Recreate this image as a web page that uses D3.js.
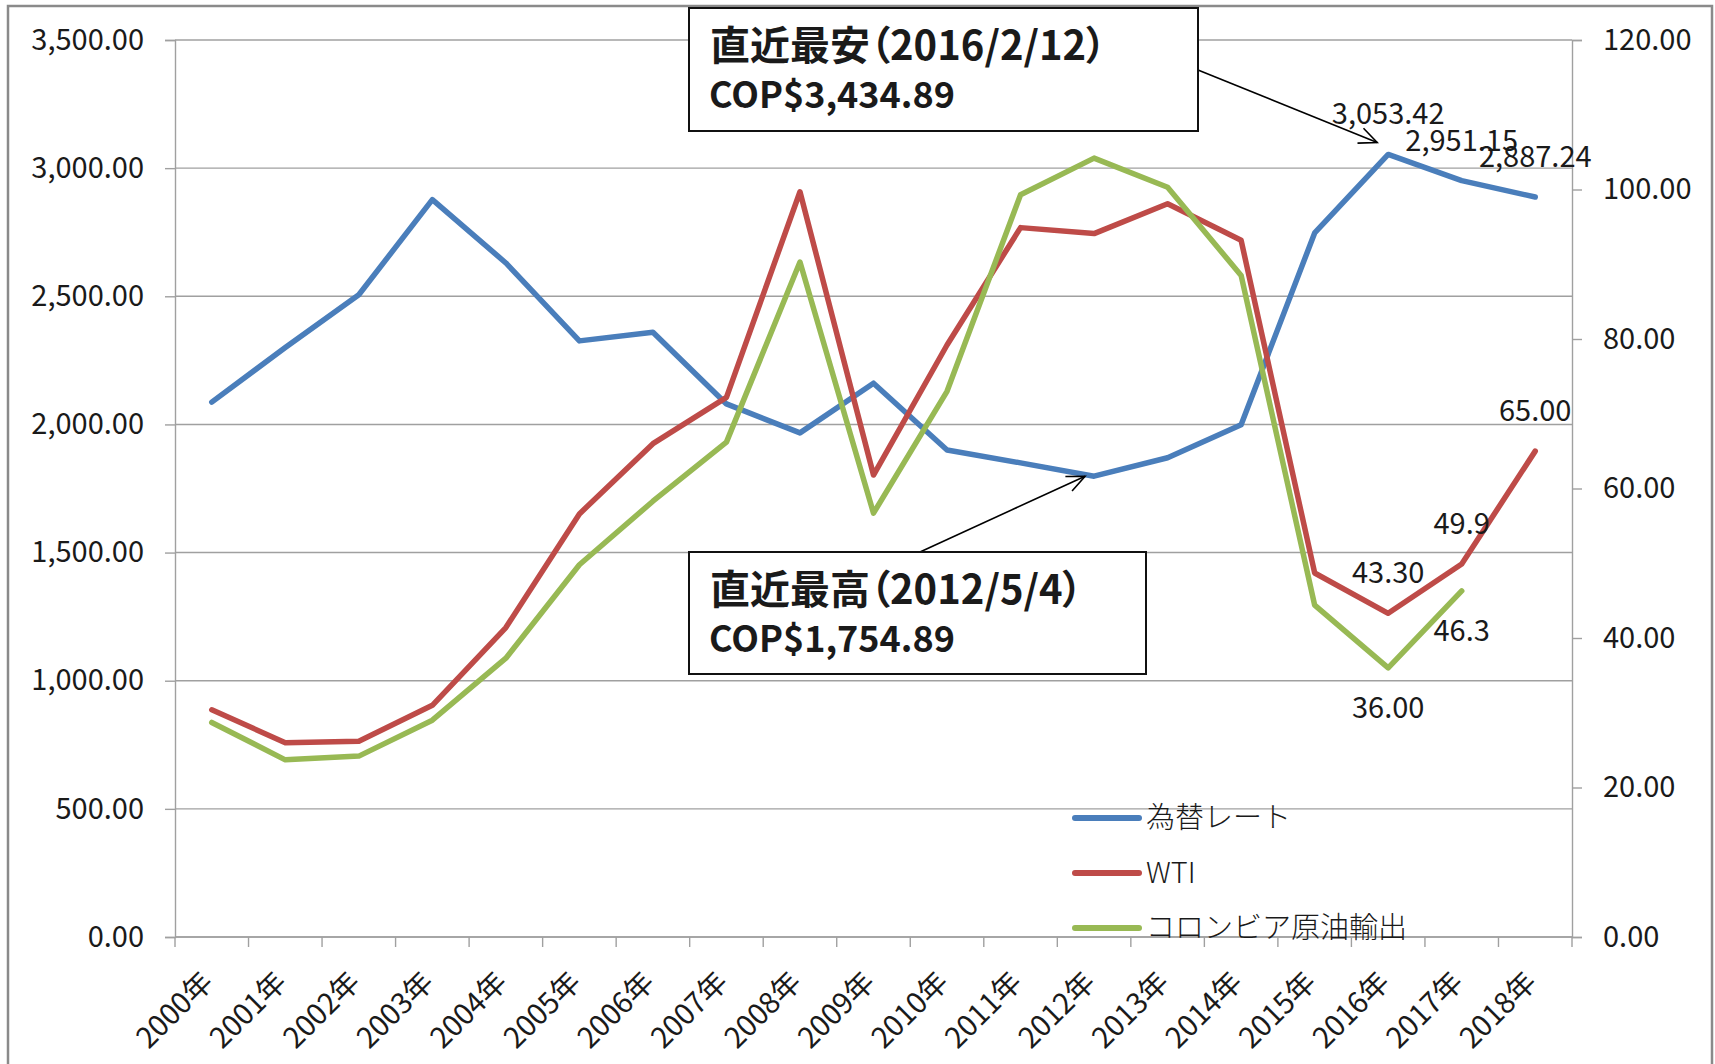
<!DOCTYPE html>
<html>
<head>
<meta charset="utf-8">
<script src="https://cdn.jsdelivr.net/npm/d3@7"></script>
<style>
  html, body { margin: 0; padding: 0; background: #fff; }
  svg { display: block; }
  text { font-family: "Noto Sans CJK JP", "Noto Sans", sans-serif; fill: #1a1a1a; }
</style>
</head>
<body>
<svg id="chart" width="1715" height="1064"></svg>
<script>
// ---------------- data ----------------
const years = ["2000年","2001年","2002年","2003年","2004年","2005年","2006年","2007年","2008年","2009年",
               "2010年","2011年","2012年","2013年","2014年","2015年","2016年","2017年","2018年"];
// 為替レート (COP per USD, left axis)
const rate = [2087, 2300, 2506, 2877, 2630, 2326, 2360, 2080, 1967, 2161,
              1900, 1850, 1798, 1870, 1999, 2747, 3053.42, 2951.15, 2887.24];
// WTI (USD/bbl, right axis)
const wti = [30.4, 26.0, 26.2, 31.0, 41.4, 56.6, 66.0, 72.2, 99.7, 61.8,
             79.2, 94.9, 94.1, 98.1, 93.2, 48.7, 43.3, 49.9, 65.0];
// コロンビア原油輸出 (USD/bbl, right axis)
const colombia = [28.7, 23.7, 24.2, 29.0, 37.3, 49.8, 58.3, 66.2, 90.3, 56.7,
                  73.0, 99.3, 104.2, 100.3, 88.5, 44.4, 36.0, 46.3, null];
const seriesNames = ["為替レート", "WTI", "コロンビア原油輸出"];
const leftTicks = [0, 500, 1000, 1500, 2000, 2500, 3000, 3500];
const rightTicks = [0, 20, 40, 60, 80, 100, 120];
// data labels: series index, point index, text, side
const dataLabels = [
  [0, 16, "3,053.42", "above"], [0, 17, "2,951.15", "above"], [0, 18, "2,887.24", "above"],
  [1, 16, "43.30", "above"], [1, 17, "49.9", "above"], [1, 18, "65.00", "above"],
  [2, 16, "36.00", "below"], [2, 17, "46.3", "below"]
];
// annotation callouts
const notes = [
  { title: "直近最安（2016/2/12）", value: "COP$3,434.89", year: "2016年", v: 3053.42 },
  { title: "直近最高（2012/5/4）",  value: "COP$1,754.89", year: "2012年", v: 1798 }
];

// ---------------- layout ----------------
const L = 175, R = 1572, T = 40, B = 937;
const colors = ["#4a7ebb", "#be4b48", "#98b954"];
const svg = d3.select("#chart");

const band = d3.scaleBand().domain(years).range([L, R]);
const x = d3.scalePoint().domain(years).range([L, R]).padding(0.5);
const yL = d3.scaleLinear().domain([0, 3500]).range([B, T]);
const yR = d3.scaleLinear().domain([0, 120]).range([B, T]);
const fmt = d3.format(",.2f");

// outer frame
svg.append("rect").attr("x", 8).attr("y", 6).attr("width", 1704).attr("height", 1070)
  .attr("fill", "none").attr("stroke", "#8a8a8a").attr("stroke-width", 2.5);

// gridlines
svg.append("g").selectAll("line").data(leftTicks).join("line")
  .attr("x1", L).attr("x2", R).attr("y1", d => yL(d)).attr("y2", d => yL(d))
  .attr("stroke", "#a0a0a0").attr("stroke-width", 1.4);

// left axis
const gL = svg.append("g").attr("transform", `translate(${L},0)`)
  .call(d3.axisLeft(yL).tickValues(leftTicks).tickFormat(fmt).tickSize(10).tickPadding(21));
// right axis
const gR = svg.append("g").attr("transform", `translate(${R},0)`)
  .call(d3.axisRight(yR).tickValues(rightTicks).tickFormat(fmt).tickSize(10).tickPadding(21));
[gL, gR].forEach(g => {
  g.select(".domain").attr("stroke", "#a0a0a0").attr("stroke-width", 1.4);
  g.selectAll(".tick line").attr("stroke", "#a0a0a0").attr("stroke-width", 1.4);
  g.selectAll(".tick text").attr("font-size", 29).attr("fill", "#1a1a1a")
    .style("font-family", "'Noto Sans CJK JP', 'Noto Sans', sans-serif");
});

// bottom axis: boundary ticks + rotated labels
const bounds = years.map(d => band(d)).concat([R]);
svg.append("line").attr("x1", L).attr("x2", R).attr("y1", B).attr("y2", B)
  .attr("stroke", "#a0a0a0").attr("stroke-width", 1.4);
svg.append("g").selectAll("line").data(bounds).join("line")
  .attr("x1", d => d).attr("x2", d => d).attr("y1", B).attr("y2", B + 10)
  .attr("stroke", "#a0a0a0").attr("stroke-width", 1.4);
svg.append("g").selectAll("text").data(years).join("text")
  .attr("transform", d => `translate(${x(d) + 3},${B + 47}) rotate(-45)`)
  .attr("text-anchor", "end").attr("font-size", 29).text(d => d);

// lines
const seriesData = [
  { vals: rate, y: yL }, { vals: wti, y: yR }, { vals: colombia, y: yR }
];
seriesData.forEach((s, i) => {
  const line = d3.line()
    .defined(d => d != null)
    .x((d, j) => x(years[j]))
    .y(d => s.y(d));
  svg.append("path").datum(s.vals)
    .attr("d", line).attr("fill", "none")
    .attr("stroke", colors[i]).attr("stroke-width", 5.5)
    .attr("stroke-linejoin", "round").attr("stroke-linecap", "round");
});

// data labels
svg.append("g").selectAll("text").data(dataLabels).join("text")
  .attr("x", d => x(years[d[1]]))
  .attr("y", d => {
    const s = seriesData[d[0]];
    const py = s.y(s.vals[d[1]]);
    return d[3] === "above" ? py - 30 : py + 50;
  })
  .attr("text-anchor", "middle").attr("font-size", 29).text(d => d[2]);

// legend
const lg = svg.append("g");
seriesNames.forEach((n, i) => {
  const ly = 818 + i * 55;
  lg.append("line").attr("x1", 1075).attr("x2", 1139).attr("y1", ly).attr("y2", ly)
    .attr("stroke", colors[i]).attr("stroke-width", 6).attr("stroke-linecap", "round");
  lg.append("text").attr("x", 1146).attr("y", ly).attr("dy", "0.35em")
    .attr("font-size", 29).attr("font-weight", 300).text(n);
});

// arrow marker
svg.append("defs").append("marker")
  .attr("id", "arr").attr("viewBox", "-20 -10 22 20")
  .attr("refX", 0).attr("refY", 0)
  .attr("markerWidth", 22).attr("markerHeight", 20)
  .attr("markerUnits", "userSpaceOnUse").attr("orient", "auto")
  .append("path").attr("d", "M-18,-8 L0,0 L-18,8")
  .attr("fill", "none").attr("stroke", "#000").attr("stroke-width", 1.6);

// callout boxes
const boxes = [
  { x: 689, y: 8, w: 509, h: 123, from: [1198, 70], to: [x(notes[0].year) - 11, yL(notes[0].v) - 12] },
  { x: 689, y: 552, w: 457, h: 122, from: [920, 552], to: [x(notes[1].year) - 9, yL(notes[1].v)] }
];
boxes.forEach((b, i) => {
  svg.append("line").attr("x1", b.from[0]).attr("y1", b.from[1])
    .attr("x2", b.to[0]).attr("y2", b.to[1])
    .attr("stroke", "#000").attr("stroke-width", 1.6).attr("marker-end", "url(#arr)");
  svg.append("rect").attr("x", b.x).attr("y", b.y).attr("width", b.w).attr("height", b.h)
    .attr("fill", "#fff").attr("stroke", "#111").attr("stroke-width", 2);
  svg.append("text").attr("x", b.x + 21).attr("y", b.y + 52)
    .attr("font-size", 40).attr("font-weight", 700)
    .style("font-feature-settings", "'palt'").attr("fill", "#000").text(notes[i].title);
  svg.append("text").attr("x", b.x + 20).attr("y", b.y + 100)
    .attr("font-size", 36).attr("font-weight", 700).attr("fill", "#000").text(notes[i].value);
});
</script>
</body>
</html>
